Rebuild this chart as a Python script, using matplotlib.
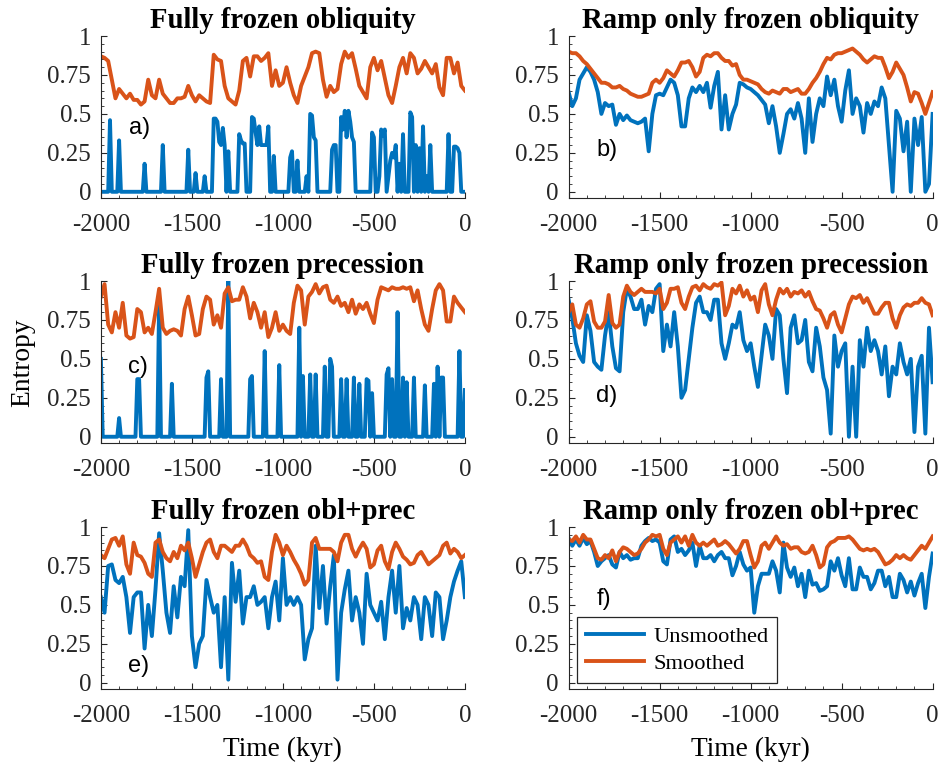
import numpy as np
import matplotlib
matplotlib.use('Agg')
import matplotlib.pyplot as plt
from matplotlib.ticker import MultipleLocator

plt.rcParams['font.family'] = ['Liberation Serif', 'DejaVu Serif']
plt.rcParams['axes.unicode_minus'] = False

BLUE = '#0072BD'
ORANGE = '#D95319'
DARK = '#262626'

# time axes, kyr (the spiky unsmoothed runs are kept at 10 kyr)
time = np.arange(-2000, 1, 20)
time10 = np.arange(-2000, 1, 10)

# entropy, fully frozen obliquity
a_raw = [0, 0, 0, 0, 0, 0.46, 0, 0, 0, 0,
         0.33, 0, 0, 0, 0, 0, 0, 0, 0, 0,
         0, 0, 0, 0, 0.18, 0, 0, 0, 0, 0,
         0, 0, 0, 0, 0.30, 0, 0, 0, 0, 0,
         0, 0, 0, 0, 0, 0, 0, 0, 0.27, 0,
         0, 0, 0.12, 0, 0, 0, 0, 0.10, 0, 0,
         0, 0, 0.47, 0.47, 0.45, 0.32, 0.30, 0.41, 0.30, 0,
         0.26, 0, 0, 0, 0, 0, 0.37, 0.33, 0.31, 0.31,
         0, 0, 0, 0.48, 0.47, 0.38, 0.30, 0.42, 0.30, 0.30,
         0.30, 0.30, 0.42, 0, 0, 0.23, 0, 0, 0, 0,
         0, 0, 0, 0, 0.22, 0.26, 0, 0, 0.20, 0,
         0, 0, 0, 0.10, 0, 0.50, 0.49, 0.35, 0.33, 0,
         0, 0, 0, 0, 0, 0, 0, 0.27, 0.30, 0.30,
         0, 0, 0.48, 0.40, 0.52, 0.35, 0.52, 0.45, 0.35, 0.32,
         0, 0, 0, 0, 0, 0, 0, 0, 0, 0.38,
         0.35, 0, 0, 0.10, 0.40, 0.36, 0.40, 0, 0.10, 0.20,
         0.25, 0.22, 0.30, 0, 0.18, 0, 0.37, 0, 0, 0,
         0.51, 0.48, 0, 0.30, 0, 0.28, 0, 0.42, 0, 0.10,
         0, 0.30, 0, 0, 0, 0, 0, 0, 0, 0,
         0, 0.37, 0, 0, 0.29, 0.29, 0.28, 0.25, 0, 0,
         0]
a_smooth = [0.87, 0.86, 0.84, 0.72, 0.60, 0.66, 0.63, 0.60, 0.63, 0.59,
            0.59, 0.56, 0.58, 0.72, 0.62, 0.60, 0.72, 0.63, 0.60, 0.57,
            0.57, 0.60, 0.60, 0.61, 0.68, 0.62, 0.58, 0.62, 0.60, 0.58,
            0.57, 0.88, 0.85, 0.84, 0.68, 0.60, 0.58, 0.56, 0.65, 0.84,
            0.86, 0.74, 0.87, 0.87, 0.84, 0.86, 0.89, 0.68, 0.78, 0.68,
            0.70, 0.80, 0.70, 0.62, 0.57, 0.68, 0.74, 0.80, 0.89, 0.90,
            0.89, 0.72, 0.61, 0.68, 0.64, 0.66, 0.82, 0.90, 0.86, 0.89,
            0.79, 0.68, 0.64, 0.60, 0.80, 0.86, 0.78, 0.84, 0.73, 0.62,
            0.57, 0.68, 0.80, 0.86, 0.76, 0.89, 0.86, 0.76, 0.79, 0.84,
            0.80, 0.76, 0.82, 0.67, 0.62, 0.86, 0.86, 0.76, 0.83, 0.68,
            0.65]

# ramp only frozen obliquity
b_raw = [0.64, 0.55, 0.60, 0.72, 0.76, 0.80, 0.77, 0.72, 0.64, 0.50,
         0.57, 0.55, 0.56, 0.43, 0.50, 0.46, 0.49, 0.46, 0.45, 0.44,
         0.45, 0.47, 0.26, 0.50, 0.62, 0.63, 0.62, 0.67, 0.72, 0.70,
         0.62, 0.42, 0.42, 0.60, 0.67, 0.64, 0.68, 0.64, 0.70, 0.54,
         0.68, 0.77, 0.40, 0.62, 0.40, 0.50, 0.56, 0.70, 0.69, 0.67,
         0.66, 0.64, 0.62, 0.59, 0.56, 0.44, 0.55, 0.42, 0.25, 0.37,
         0.50, 0.53, 0.47, 0.57, 0.47, 0.25, 0.60, 0.32, 0.50, 0.60,
         0.55, 0.74, 0.62, 0.72, 0.55, 0.45, 0.65, 0.78, 0.50, 0.60,
         0.55, 0.38, 0.57, 0.50, 0.58, 0.55, 0.67, 0.60, 0.30, 0.00,
         0.52, 0.47, 0.26, 0.45, 0.00, 0.47, 0.30, 0.48, 0.00, 0.05,
         0.50]
b_smooth = [0.90, 0.89, 0.89, 0.87, 0.84, 0.82, 0.79, 0.76, 0.73, 0.70,
            0.70, 0.69, 0.67, 0.67, 0.68, 0.66, 0.65, 0.63, 0.62, 0.61,
            0.61, 0.62, 0.63, 0.70, 0.72, 0.70, 0.73, 0.78, 0.76, 0.74,
            0.78, 0.83, 0.83, 0.84, 0.80, 0.74, 0.77, 0.86, 0.88, 0.87,
            0.89, 0.89, 0.86, 0.84, 0.84, 0.81, 0.82, 0.75, 0.72, 0.72,
            0.71, 0.70, 0.69, 0.66, 0.64, 0.63, 0.65, 0.64, 0.63, 0.66,
            0.66, 0.64, 0.65, 0.66, 0.63, 0.63, 0.66, 0.70, 0.73, 0.77,
            0.82, 0.86, 0.85, 0.88, 0.89, 0.89, 0.90, 0.91, 0.92, 0.90,
            0.88, 0.85, 0.83, 0.85, 0.87, 0.86, 0.86, 0.80, 0.73, 0.77,
            0.83, 0.79, 0.75, 0.67, 0.58, 0.64, 0.63, 0.57, 0.50, 0.57,
            0.64]

# fully frozen precession
c_raw = [0.50, 0, 0, 0, 0, 0, 0, 0, 0, 0,
         0.12, 0, 0, 0, 0, 0, 0, 0, 0, 0,
         0.37, 0.37, 0, 0, 0, 0, 0, 0, 0, 0,
         0, 0, 0.88, 0, 0, 0, 0, 0, 0, 0.34,
         0, 0, 0, 0, 0, 0, 0, 0, 0, 0,
         0, 0, 0, 0, 0, 0, 0, 0, 0.38, 0.42,
         0, 0, 0, 0, 0, 0, 0.37, 0, 0, 0,
         1.00, 0, 0, 0, 0, 0, 0, 0, 0, 0,
         0, 0, 0.37, 0.39, 0, 0, 0, 0, 0, 0,
         0.55, 0, 0, 0, 0, 0, 0, 0, 0.46, 0,
         0, 0, 0, 0, 0, 0, 0, 0, 0, 0.70,
         0, 0.39, 0, 0, 0, 0.40, 0, 0, 0.40, 0,
         0, 0, 0, 0.45, 0, 0, 0.50, 0.45, 0, 0,
         0, 0, 0.37, 0, 0, 0.37, 0, 0, 0, 0.38,
         0, 0, 0.34, 0, 0, 0, 0.37, 0.36, 0, 0.28,
         0, 0, 0, 0, 0, 0, 0, 0.40, 0.44, 0,
         0.37, 0, 0, 0.80, 0, 0, 0.38, 0, 0.35, 0,
         0, 0, 0.38, 0, 0, 0, 0, 0, 0.33, 0,
         0, 0, 0, 0.34, 0, 0.45, 0, 0.38, 0.38, 0,
         0, 0, 0, 0, 0, 0, 0, 0.55, 0, 0,
         0.30]
c_smooth = [0.90, 0.98, 0.72, 0.67, 0.80, 0.70, 0.86, 0.65, 0.63, 0.64,
            0.82, 0.80, 0.67, 0.70, 0.66, 0.80, 0.95, 0.70, 0.66, 0.68,
            0.69, 0.68, 0.65, 0.82, 0.90, 0.78, 0.65, 0.66, 0.82, 0.90,
            0.88, 0.72, 0.78, 0.70, 0.92, 0.96, 0.87, 0.88, 0.88, 0.96,
            0.90, 0.76, 0.86, 0.80, 0.70, 0.80, 0.64, 0.70, 0.80, 0.68,
            0.72, 0.68, 0.66, 0.86, 0.97, 0.94, 0.72, 0.90, 0.93, 0.98,
            0.92, 0.96, 0.97, 0.88, 0.86, 0.90, 0.84, 0.86, 0.80, 0.88,
            0.79, 0.85, 0.82, 0.86, 0.79, 0.73, 0.88, 0.96, 0.95, 0.94,
            0.96, 0.95, 0.95, 0.96, 0.95, 0.96, 0.87, 0.94, 0.82, 0.72,
            0.68, 0.82, 0.94, 0.98, 0.94, 0.74, 0.74, 0.90, 0.86, 0.83,
            0.80]

# ramp only frozen precession
d_raw = [0.88, 0.76, 0.60, 0.52, 0.48, 0.78, 0.68, 0.48, 0.45, 0.43,
         0.65, 0.80, 0.58, 0.44, 0.42, 0.80, 0.95, 0.90, 0.82, 0.82,
         0.88, 0.72, 0.84, 0.80, 0.95, 0.98, 0.55, 0.72, 0.58, 0.80,
         0.58, 0.25, 0.30, 0.50, 0.70, 0.86, 0.90, 0.80, 0.80, 0.75,
         0.88, 0.88, 0.60, 0.50, 0.60, 0.72, 0.70, 0.80, 0.62, 0.55,
         0.60, 0.45, 0.32, 0.52, 0.72, 0.65, 0.50, 0.82, 0.78, 0.50,
         0.28, 0.70, 0.78, 0.60, 0.62, 0.75, 0.48, 0.42, 0.70, 0.58,
         0.38, 0.30, 0.02, 0.65, 0.45, 0.55, 0.60, 0.00, 0.45, 0.00,
         0.62, 0.45, 0.70, 0.55, 0.62, 0.55, 0.40, 0.58, 0.26, 0.45,
         0.40, 0.60, 0.48, 0.40, 0.50, 0.03, 0.45, 0.52, 0.02, 0.70,
         0.35]
d_smooth = [0.80, 0.85, 0.72, 0.70, 0.76, 0.85, 0.87, 0.74, 0.70, 0.70,
            0.74, 0.91, 0.73, 0.70, 0.72, 0.90, 0.97, 0.93, 0.91, 0.93,
            0.95, 0.93, 0.93, 0.93, 0.92, 0.95, 0.82, 0.86, 0.95, 0.95,
            0.96, 0.86, 0.82, 0.90, 0.96, 0.97, 0.94, 0.98, 0.96, 0.95,
            0.98, 0.97, 0.99, 0.78, 0.84, 0.95, 0.92, 0.97, 0.90, 0.94,
            0.88, 0.90, 0.80, 0.94, 0.98, 0.85, 0.78, 0.88, 0.95, 0.92,
            0.95, 0.90, 0.93, 0.92, 0.94, 0.90, 0.93, 0.87, 0.82, 0.81,
            0.76, 0.70, 0.78, 0.80, 0.72, 0.67, 0.76, 0.85, 0.90, 0.89,
            0.91, 0.86, 0.89, 0.84, 0.79, 0.79, 0.83, 0.86, 0.86, 0.76,
            0.70, 0.78, 0.83, 0.85, 0.84, 0.86, 0.86, 0.89, 0.86, 0.85,
            0.78]

# fully frozen obliquity + precession
e_raw = [0.55, 0.45, 0.75, 0.76, 0.66, 0.64, 0.68, 0.55, 0.32, 0.55,
         0.58, 0.58, 0.22, 0.50, 0.30, 0.60, 0.96, 0.72, 0.45, 0.32,
         0.62, 0.42, 0.68, 0.62, 0.98, 0.30, 0.10, 0.25, 0.30, 0.66,
         0.55, 0.45, 0.50, 0.10, 0.55, 0.02, 0.77, 0.52, 0.72, 0.38,
         0.55, 0.55, 0.62, 0.50, 0.52, 0.55, 0.35, 0.55, 0.65, 0.40,
         0.80, 0.50, 0.55, 0.50, 0.55, 0.50, 0.15, 0.28, 0.35, 0.88,
         0.48, 0.75, 0.38, 0.62, 0.82, 0.02, 0.45, 0.60, 0.72, 0.40,
         0.55, 0.45, 0.25, 0.70, 0.50, 0.45, 0.40, 0.52, 0.28, 0.55,
         0.72, 0.45, 0.75, 0.35, 0.48, 0.40, 0.55, 0.50, 0.28, 0.55,
         0.50, 0.30, 0.58, 0.55, 0.28, 0.40, 0.55, 0.65, 0.72, 0.78,
         0.55]
e_smooth = [0.82, 0.80, 0.86, 0.92, 0.93, 0.88, 0.94, 0.76, 0.70, 0.90,
            0.82, 0.81, 0.77, 0.70, 0.68, 0.90, 0.92, 0.84, 0.80, 0.78,
            0.84, 0.80, 0.88, 0.85, 0.90, 0.80, 0.68, 0.76, 0.84, 0.90,
            0.92, 0.84, 0.80, 0.88, 0.88, 0.86, 0.84, 0.88, 0.88, 0.92,
            0.88, 0.82, 0.80, 0.77, 0.78, 0.68, 0.66, 0.84, 0.95, 0.90,
            0.82, 0.88, 0.84, 0.79, 0.75, 0.70, 0.63, 0.66, 0.90, 0.93,
            0.86, 0.86, 0.86, 0.86, 0.84, 0.78, 0.90, 0.95, 0.95, 0.86,
            0.81, 0.86, 0.90, 0.86, 0.74, 0.76, 0.85, 0.88, 0.78, 0.73,
            0.84, 0.90, 0.86, 0.81, 0.79, 0.76, 0.77, 0.82, 0.84, 0.80,
            0.76, 0.78, 0.80, 0.82, 0.88, 0.90, 0.83, 0.86, 0.84, 0.80,
            0.82]

# ramp only frozen obliquity + precession
f_raw = [0.93, 0.88, 0.92, 0.88, 0.93, 0.89, 0.91, 0.84, 0.75, 0.78,
         0.80, 0.82, 0.76, 0.74, 0.84, 0.80, 0.82, 0.79, 0.80, 0.80,
         0.88, 0.91, 0.93, 0.91, 0.92, 0.90, 0.78, 0.76, 0.92, 0.94,
         0.84, 0.86, 0.82, 0.85, 0.90, 0.75, 0.88, 0.80, 0.80, 0.82,
         0.78, 0.82, 0.84, 0.80, 0.80, 0.69, 0.75, 0.84, 0.76, 0.72,
         0.74, 0.45, 0.62, 0.70, 0.70, 0.70, 0.78, 0.72, 0.58, 0.90,
         0.74, 0.68, 0.74, 0.62, 0.70, 0.55, 0.72, 0.63, 0.64, 0.59,
         0.60, 0.62, 0.78, 0.72, 0.80, 0.69, 0.62, 0.80, 0.60, 0.60,
         0.74, 0.68, 0.68, 0.60, 0.64, 0.72, 0.72, 0.62, 0.68, 0.55,
         0.55, 0.70, 0.66, 0.58, 0.65, 0.56, 0.64, 0.70, 0.48, 0.68,
         0.83]
f_smooth = [0.92, 0.91, 0.94, 0.90, 0.95, 0.92, 0.92, 0.86, 0.80, 0.79,
            0.82, 0.80, 0.85, 0.78, 0.84, 0.87, 0.86, 0.84, 0.82, 0.83,
            0.86, 0.90, 0.92, 0.95, 0.94, 0.95, 0.86, 0.82, 0.90, 0.92,
            0.94, 0.90, 0.94, 0.88, 0.95, 0.90, 0.88, 0.90, 0.88, 0.90,
            0.92, 0.88, 0.89, 0.91, 0.89, 0.86, 0.83, 0.86, 0.91, 0.91,
            0.82, 0.74, 0.78, 0.88, 0.90, 0.86, 0.90, 0.94, 0.90, 0.88,
            0.89, 0.86, 0.87, 0.87, 0.84, 0.83, 0.84, 0.88, 0.82, 0.74,
            0.76, 0.87, 0.90, 0.91, 0.93, 0.93, 0.93, 0.94, 0.92, 0.89,
            0.86, 0.85, 0.86, 0.85, 0.86, 0.84, 0.80, 0.76, 0.77, 0.79,
            0.82, 0.80, 0.82, 0.80, 0.79, 0.82, 0.85, 0.88, 0.86, 0.90,
            0.94]

titles = ['Fully frozen obliquity', 'Ramp only frozen obliquity',
          'Fully frozen precession', 'Ramp only frozen precession',
          'Fully frozen obl+prec', 'Ramp only frozen obl+prec']
panel_tags = ['a)', 'b)', 'c)', 'd)', 'e)', 'f)']
tag_pos = [(-1786, 0.41), (-1790, 0.27), (-1795, 0.45),
           (-1790, 0.26), (-1795, 0.11), (-1808, 0.54)]
raw_series = [(time10, a_raw), (time, b_raw), (time10, c_raw),
              (time, d_raw), (time, e_raw), (time, f_raw)]
smooth_series = [a_smooth, b_smooth, c_smooth, d_smooth, e_smooth, f_smooth]

fig = plt.figure(figsize=(9.43, 7.72), dpi=100)

lefts = [0.107, 0.603]
bottoms = [0.7435, 0.4262, 0.1075]
w, h = 0.386, 0.2098

axes = []
for i in range(6):
    r, c = divmod(i, 2)
    ax = fig.add_axes([lefts[c], bottoms[r], w, h])
    axes.append(ax)

    t_raw, y_raw = raw_series[i]
    ax.plot(t_raw, y_raw, color=BLUE, lw=2.8, label='Unsmoothed')
    ax.plot(time, smooth_series[i], color=ORANGE, lw=2.8, label='Smoothed')

    ax.set_xlim(-2000, 0)
    ax.set_ylim(-0.04, 1)
    ax.set_xticks([-2000, -1500, -1000, -500, 0])
    ax.set_yticks([0, 0.25, 0.5, 0.75, 1])
    ax.set_yticklabels(['0', '0.25', '0.5', '0.75', '1'])
    ax.xaxis.set_minor_locator(MultipleLocator(100))
    ax.yaxis.set_minor_locator(MultipleLocator(0.05))

    ax.spines['top'].set_visible(False)
    ax.spines['right'].set_visible(False)
    for s in ['left', 'bottom']:
        ax.spines[s].set_color(DARK)
        ax.spines[s].set_linewidth(0.8)
    ax.tick_params(which='both', direction='in', colors=DARK, labelsize=18)
    ax.tick_params(which='major', length=4, width=0.8)
    ax.tick_params(which='minor', length=2.5, width=0.6)
    ax.tick_params(axis='x', pad=11.5)
    ax.tick_params(axis='y', pad=7)

    ax.set_title(titles[i], fontsize=20.7, fontweight='bold', pad=6)
    tx, ty = tag_pos[i]
    ax.text(tx, ty, panel_tags[i], fontsize=17, ha='center', va='center',
            family=['Liberation Sans', 'DejaVu Sans'])

for ax in axes[4:]:
    ax.set_xlabel('Time (kyr)', fontsize=19.8, labelpad=7)

fig.text(0.024, 0.53, 'Entropy', rotation=90, ha='center', va='center',
         fontsize=19.8)

leg = axes[5].legend(loc='lower left', bbox_to_anchor=(0.022, 0.037),
                     borderaxespad=0, fontsize=16.2, handlelength=2.6,
                     handletextpad=0.4, labelspacing=0.3, borderpad=0.4,
                     fancybox=False, framealpha=1)
leg.get_frame().set_edgecolor(DARK)
leg.get_frame().set_linewidth(0.9)

fig.savefig('out.png', dpi=100)
